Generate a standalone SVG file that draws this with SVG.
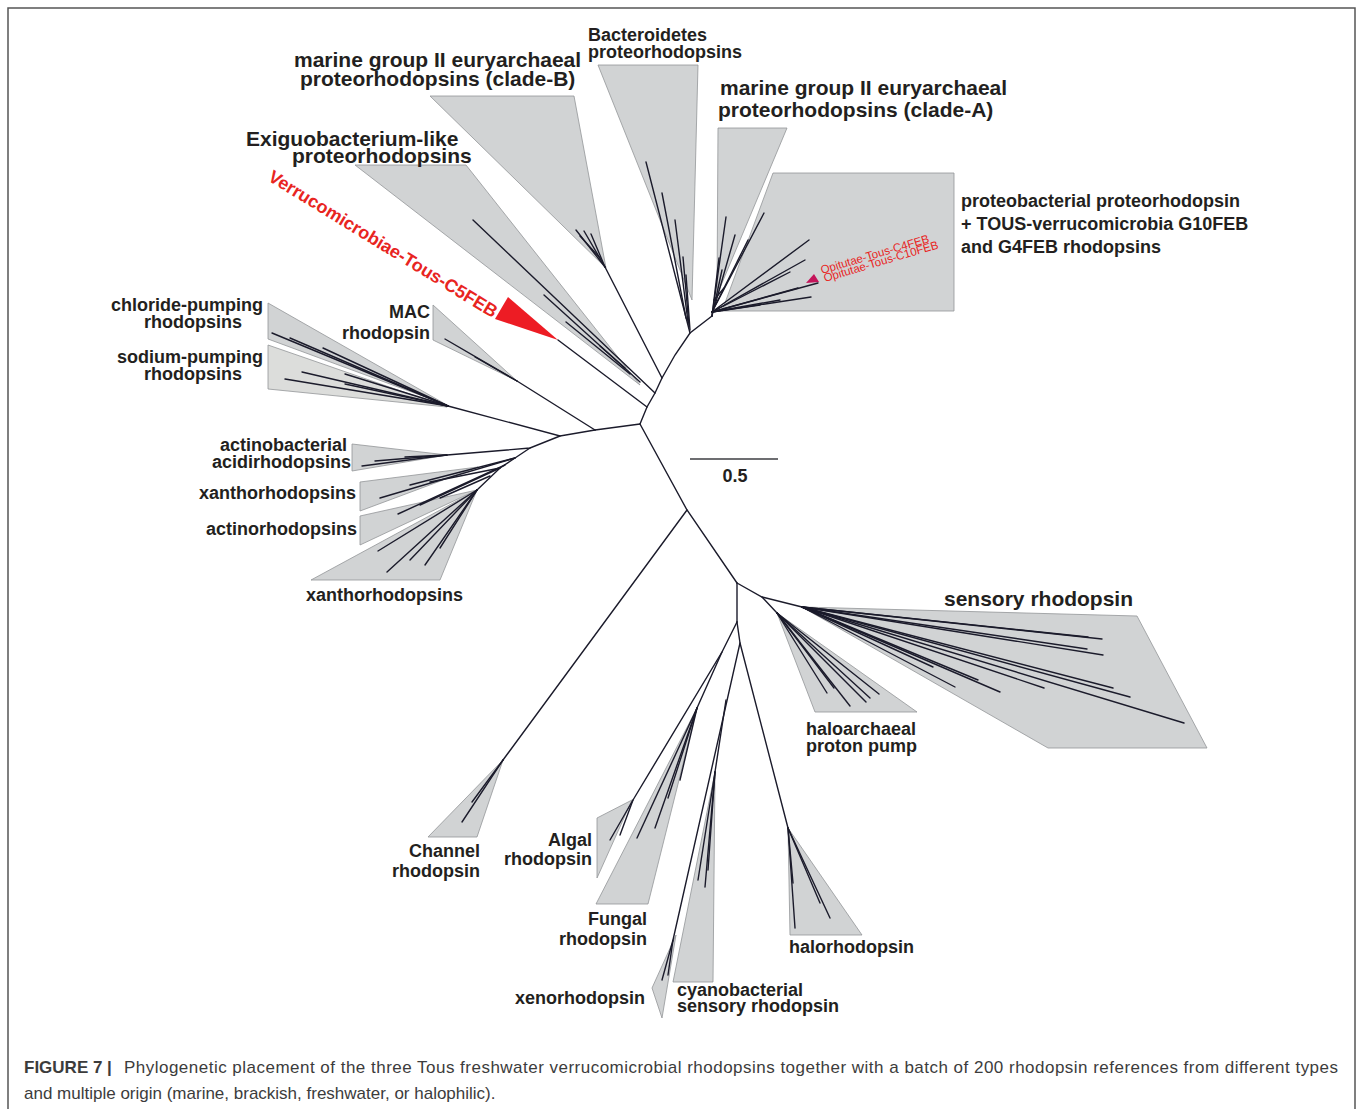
<svg xmlns="http://www.w3.org/2000/svg" width="1358" height="1109" viewBox="0 0 1358 1109">
<style>
.lbl{font-family:"Liberation Sans",Arial,sans-serif;font-weight:bold;fill:#231f20;font-size:18px}
.big{font-size:21px}
.red{fill:#e8251f}
.cl{fill:#d1d3d4;stroke:#939598;stroke-width:0.8}
.tr{stroke:#1b1b2b;stroke-width:1.4;fill:none;stroke-linecap:round}
.cap{font-family:"Liberation Sans",Arial,sans-serif;font-size:17px;fill:#3c3c3c}
</style>
<rect width="1358" height="1109" fill="#fff"/>
<path d="M8 1109 V8 H1355 V1109" fill="none" stroke="#555" stroke-width="1.5"/>

<g id="clade-shapes">
<polygon id="bacteroidetes-shape" class="cl" points="598,65 698,65 692,300"/>
<polygon id="cladeB-shape" class="cl" points="430,96 574,96 606,268"/>
<polygon id="exiguo-shape" class="cl" points="355,165 466,165 640,385"/>
<polygon id="cladeA-shape" class="cl" points="718,128 787,128 717,295"/>
<polygon id="proteo-shape" class="cl" points="773,173 954,173 954,311 722,311"/>
<polygon id="mac-shape" class="cl" points="433,305 433,340 517,381"/>
<polygon id="chloride-shape" class="cl" points="268,303 268,339 447,405"/>
<polygon id="sodium-shape" class="cl" points="268,345 268,389 447,407" style="fill:#dcdddb"/>
<polygon id="acidi-shape" class="cl" points="352,444 352,471 447,455"/>
<polygon id="xantho1-shape" class="cl" points="360,482 360,511 478,467"/>
<polygon id="actino-shape" class="cl" points="360,516 360,545 477,490"/>
<polygon id="xantho2-shape" class="cl" points="311,580 440,580 477,490"/>
<polygon id="sensory-shape" class="cl" points="802,607 1137,616 1207,748 1048,748"/>
<polygon id="haloarch-shape" class="cl" points="777,613 917,712 815,712"/>
<polygon id="channel-shape" class="cl" points="503,760 428,837 477,837"/>
<polygon id="algal-shape" class="cl" points="632,800 597,818 597,878"/>
<polygon id="fungal-shape" class="cl" points="697,708 596,904 648,904"/>
<polygon id="cyano-shape" class="cl" points="715,772 713,982 673,982"/>
<polygon id="xeno-shape" class="cl" points="676,935 652,988 662,1018"/>
<polygon id="halo-shape" class="cl" points="788,828 790,935 862,935"/>
<polygon id="verruco-shape" points="508,297 495,319 558,340" fill="#ed1c24"/>
<polygon id="opitutae-shape" points="806,283 814,274 819,282" fill="#c4145a"/>
</g>

<g id="connectors" class="tr">
<polyline points="640,424 647,407 655,393 662,378 675,355 690,333 712,316"/>
<line x1="647" y1="407" x2="558" y2="340"/>
<line x1="655" y1="393" x2="473" y2="220"/>
<line x1="640" y1="382" x2="544" y2="295"/>
<line x1="630" y1="374" x2="566" y2="322"/>
<line x1="625" y1="368" x2="600" y2="346"/>
<line x1="662" y1="378" x2="605" y2="267"/>
<line x1="605" y1="267" x2="576" y2="230"/>
<line x1="605" y1="267" x2="584" y2="231"/>
<line x1="605" y1="267" x2="591" y2="234"/>
<line x1="600" y1="258" x2="580" y2="236"/>
<line x1="690" y1="333" x2="646" y2="162"/>
<line x1="686" y1="318" x2="662" y2="193"/>
<line x1="688" y1="322" x2="675" y2="220"/>
<line x1="689" y1="326" x2="683" y2="257"/>
<line x1="690" y1="330" x2="686" y2="275"/>
<line x1="712" y1="316" x2="726" y2="217"/>
<line x1="712" y1="316" x2="719" y2="258"/>
<line x1="712" y1="316" x2="722" y2="270"/>
<line x1="714" y1="300" x2="724" y2="288"/>
<line x1="712" y1="312" x2="764" y2="213"/>
<line x1="715" y1="305" x2="735" y2="235"/>
<line x1="712" y1="312" x2="748" y2="240"/>
<line x1="712" y1="312" x2="809" y2="240"/>
<line x1="712" y1="312" x2="805" y2="260"/>
<line x1="712" y1="312" x2="790" y2="272"/>
<line x1="712" y1="312" x2="818" y2="283"/>
<line x1="712" y1="312" x2="811" y2="297"/>
<line x1="712" y1="312" x2="798" y2="288"/>
<line x1="712" y1="312" x2="780" y2="300"/>
<line x1="712" y1="312" x2="760" y2="305"/>
<line x1="640" y1="424" x2="595" y2="430"/>
<line x1="595" y1="430" x2="517" y2="381"/>
<line x1="517" y1="381" x2="445" y2="339"/>
<line x1="517" y1="381" x2="475" y2="357"/>
<polyline points="595,430 560,436 448,406"/>
<line x1="448" y1="406" x2="272" y2="333"/>
<line x1="448" y1="406" x2="290" y2="338"/>
<line x1="448" y1="406" x2="323" y2="348"/>
<line x1="448" y1="406" x2="345" y2="374"/>
<line x1="448" y1="406" x2="285" y2="379"/>
<line x1="448" y1="406" x2="302" y2="372"/>
<line x1="448" y1="406" x2="345" y2="384"/>
<polyline points="560,436 530,448 447,455 362,466"/>
<line x1="447" y1="455" x2="375" y2="461"/>
<line x1="447" y1="455" x2="405" y2="457"/>
<polyline points="530,448 515,458 500,468 477,490"/>
<line x1="515" y1="458" x2="380" y2="498"/>
<line x1="515" y1="458" x2="410" y2="485"/>
<line x1="500" y1="468" x2="430" y2="482"/>
<line x1="505" y1="465" x2="398" y2="514"/>
<line x1="500" y1="468" x2="420" y2="505"/>
<line x1="490" y1="476" x2="440" y2="498"/>
<line x1="477" y1="490" x2="378" y2="551"/>
<line x1="477" y1="490" x2="387" y2="572"/>
<line x1="477" y1="490" x2="410" y2="560"/>
<line x1="477" y1="490" x2="425" y2="565"/>
<line x1="477" y1="490" x2="440" y2="548"/>
<polyline points="640,424 687,510 737,583"/>
<line x1="687" y1="510" x2="503" y2="760"/>
<line x1="503" y1="760" x2="462" y2="822"/>
<line x1="503" y1="760" x2="472" y2="802"/>
<polyline points="737,583 762,597 802,607"/>
<line x1="762" y1="597" x2="777" y2="613"/>
<line x1="802" y1="607" x2="1102" y2="639"/>
<line x1="802" y1="607" x2="1088" y2="637"/>
<line x1="802" y1="607" x2="1103" y2="655"/>
<line x1="802" y1="607" x2="1087" y2="649"/>
<line x1="802" y1="607" x2="1113" y2="688"/>
<line x1="802" y1="607" x2="1130" y2="697"/>
<line x1="802" y1="607" x2="1184" y2="723"/>
<line x1="802" y1="607" x2="1044" y2="688"/>
<line x1="802" y1="607" x2="1000" y2="692"/>
<line x1="802" y1="607" x2="955" y2="687"/>
<line x1="802" y1="607" x2="978" y2="680"/>
<line x1="802" y1="607" x2="933" y2="667"/>
<line x1="777" y1="613" x2="827" y2="693"/>
<line x1="777" y1="613" x2="850" y2="706"/>
<line x1="777" y1="613" x2="870" y2="698"/>
<line x1="777" y1="613" x2="879" y2="694"/>
<line x1="777" y1="613" x2="834" y2="688"/>
<line x1="777" y1="613" x2="866" y2="702"/>
<line x1="737" y1="583" x2="737" y2="622"/>
<polyline points="737,622 722,652 633,800 610,840"/>
<line x1="633" y1="800" x2="620" y2="835"/>
<line x1="722" y1="652" x2="697" y2="708"/>
<line x1="697" y1="708" x2="637" y2="838"/>
<line x1="697" y1="708" x2="655" y2="828"/>
<line x1="697" y1="708" x2="668" y2="798"/>
<line x1="697" y1="708" x2="680" y2="780"/>
<polyline points="737,622 740,643 673,940 662,980"/>
<line x1="673" y1="940" x2="668" y2="975"/>
<line x1="726" y1="700" x2="715" y2="772"/>
<line x1="715" y1="772" x2="705" y2="887"/>
<line x1="715" y1="772" x2="698" y2="880"/>
<line x1="715" y1="772" x2="708" y2="870"/>
<line x1="740" y1="643" x2="788" y2="828"/>
<line x1="788" y1="828" x2="795" y2="928"/>
<line x1="788" y1="828" x2="830" y2="918"/>
<line x1="788" y1="828" x2="820" y2="903"/>
<line x1="788" y1="828" x2="793" y2="883"/>
</g>

<g id="scale-bar">
<line x1="690" y1="459" x2="778" y2="459" stroke="#6d6e71" stroke-width="2"/>
<text class="lbl" x="735" y="482" text-anchor="middle" font-size="20">0.5</text>
</g>

<g id="labels">
<g id="lbl-bacteroidetes"><text class="lbl" x="588" y="41">Bacteroidetes</text><text class="lbl" x="588" y="58">proteorhodopsins</text></g>
<g id="lbl-cladeB"><text class="lbl big" x="294" y="67">marine group II euryarchaeal</text><text class="lbl big" x="300" y="86">proteorhodopsins (clade-B)</text></g>
<g id="lbl-cladeA"><text class="lbl big" x="720" y="95">marine group II euryarchaeal</text><text class="lbl big" x="718" y="117">proteorhodopsins (clade-A)</text></g>
<g id="lbl-exiguo"><text class="lbl big" x="246" y="146">Exiguobacterium-like</text><text class="lbl big" x="292" y="163">proteorhodopsins</text></g>
<g id="lbl-verruco"><text class="lbl red" x="0" y="0" transform="translate(267,180) rotate(31.5)">Verrucomicrobiae-Tous-C5FEB</text></g>
<g id="lbl-proteo"><text class="lbl" x="961" y="207">proteobacterial proteorhodopsin</text><text class="lbl" x="961" y="230">+ TOUS-verrucomicrobia G10FEB</text><text class="lbl" x="961" y="253">and G4FEB rhodopsins</text></g>
<g id="lbl-opitutae" font-family="Liberation Sans, Arial, sans-serif" font-size="11.5" fill="#e8251f">
<text transform="translate(822,274) rotate(-16.5)">Opitutae-Tous-C4FEB</text>
<text transform="translate(825,282) rotate(-16.5)">Opitutae-Tous-C10FEB</text></g>
<g id="lbl-mac"><text class="lbl" x="430" y="318" text-anchor="end">MAC</text><text class="lbl" x="430" y="339" text-anchor="end">rhodopsin</text></g>
<g id="lbl-chloride"><text class="lbl" x="263" y="311" text-anchor="end">chloride-pumping</text><text class="lbl" x="242" y="328" text-anchor="end">rhodopsins</text></g>
<g id="lbl-sodium"><text class="lbl" x="263" y="363" text-anchor="end">sodium-pumping</text><text class="lbl" x="242" y="380" text-anchor="end">rhodopsins</text></g>
<g id="lbl-acidi"><text class="lbl" x="347" y="451" text-anchor="end">actinobacterial</text><text class="lbl" x="351" y="468" text-anchor="end">acidirhodopsins</text></g>
<g id="lbl-xantho1"><text class="lbl" x="356" y="499" text-anchor="end">xanthorhodopsins</text></g>
<g id="lbl-actino"><text class="lbl" x="357" y="535" text-anchor="end">actinorhodopsins</text></g>
<g id="lbl-xantho2"><text class="lbl" x="306" y="601">xanthorhodopsins</text></g>
<g id="lbl-sensory"><text class="lbl big" x="944" y="606">sensory rhodopsin</text></g>
<g id="lbl-haloarch"><text class="lbl" x="806" y="735">haloarchaeal</text><text class="lbl" x="806" y="752">proton pump</text></g>
<g id="lbl-channel"><text class="lbl" x="480" y="857" text-anchor="end">Channel</text><text class="lbl" x="480" y="877" text-anchor="end">rhodopsin</text></g>
<g id="lbl-algal"><text class="lbl" x="592" y="846" text-anchor="end">Algal</text><text class="lbl" x="592" y="865" text-anchor="end">rhodopsin</text></g>
<g id="lbl-fungal"><text class="lbl" x="647" y="925" text-anchor="end">Fungal</text><text class="lbl" x="647" y="945" text-anchor="end">rhodopsin</text></g>
<g id="lbl-xeno"><text class="lbl" x="645" y="1004" text-anchor="end">xenorhodopsin</text></g>
<g id="lbl-cyano"><text class="lbl" x="677" y="996">cyanobacterial</text><text class="lbl" x="677" y="1012">sensory rhodopsin</text></g>
<g id="lbl-halo"><text class="lbl" x="789" y="953">halorhodopsin</text></g>
</g>

<g id="caption">
<text class="cap" x="24" y="1073" font-weight="bold" fill="#231f20">FIGURE 7 |</text>
<text class="cap" x="124" y="1073" textLength="1214" lengthAdjust="spacing">Phylogenetic placement of the three Tous freshwater verrucomicrobial rhodopsins together with a batch of 200 rhodopsin references from different types</text>
<text class="cap" x="24" y="1099">and multiple origin (marine, brackish, freshwater, or halophilic).</text>
</g>
</svg>
